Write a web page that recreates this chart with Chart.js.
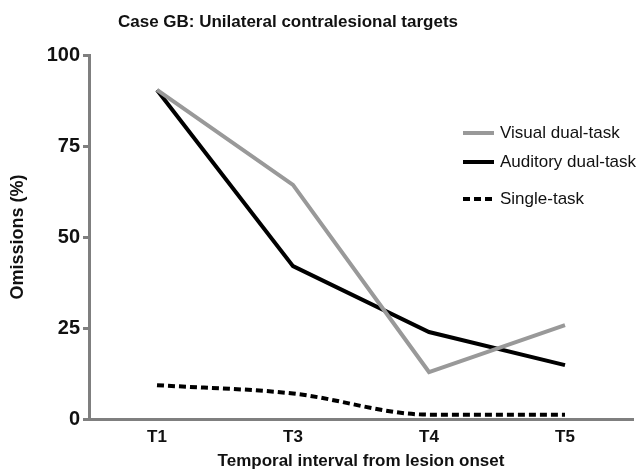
<!DOCTYPE html>
<html>
<head>
<meta charset="utf-8">
<script src="https://cdn.jsdelivr.net/npm/chart.js@4.4.1/dist/chart.umd.min.js"></script>
<style>
  html, body { margin: 0; padding: 0; background: #fff; }
  #wrap { width: 644px; height: 474px; }
</style>
</head>
<body>
<div id="wrap"><canvas id="omissionsChart"></canvas></div>
<script>
// values
const intervals = ['T1', 'T3', 'T4', 'T5'];
const visualDual = [90.4, 64.3, 12.9, 25.8];
const auditoryDual = [90.4, 42, 23.9, 14.8];
const singleTask = [9.3, 7, 1.2, 1.2];
const yTicks = [0, 25, 50, 75, 100];

const chartTitle = 'Case GB: Unilateral contralesional targets';
const axisGrey = '#7f7f7f';
const fontName = "'Liberation Sans', Arial, sans-serif";

// title sits left of centre in the original, so draw it ourselves
const titlePlugin = {
  id: 'titlePlugin',
  afterDraw(chart) {
    const ctx = chart.ctx;
    ctx.save();
    ctx.font = 'bold 17px ' + fontName;
    ctx.fillStyle = '#111';
    ctx.textAlign = 'center';
    ctx.textBaseline = 'middle';
    ctx.fillText(chartTitle, 288, 22);
    ctx.restore();
  }
};

// vertical legend inside the plot, top right
const legendPlugin = {
  id: 'legendPlugin',
  afterDraw(chart) {
    const ctx = chart.ctx;
    const rows = [133, 162, 199];
    ctx.save();
    ctx.font = '17px ' + fontName;
    ctx.textBaseline = 'middle';
    chart.data.datasets.forEach((ds, i) => {
      const y = rows[i];
      ctx.strokeStyle = ds.borderColor;
      ctx.lineWidth = ds.borderWidth;
      ctx.setLineDash(ds.borderDash || []);
      ctx.beginPath();
      ctx.moveTo(463, y);
      ctx.lineTo(494, y);
      ctx.stroke();
      ctx.setLineDash([]);
      ctx.fillStyle = '#111';
      ctx.fillText(ds.label, 500, y);
    });
    ctx.restore();
  }
};

const ctx = document.getElementById('omissionsChart').getContext('2d');
new Chart(ctx, {
  type: 'line',
  data: {
    labels: intervals,
    datasets: [
      {
        label: 'Visual dual-task',
        data: visualDual,
        borderColor: '#999999',
        borderWidth: 4,
        pointRadius: 0,
        tension: 0
      },
      {
        label: 'Auditory dual-task',
        data: auditoryDual,
        borderColor: '#000000',
        borderWidth: 4,
        pointRadius: 0,
        tension: 0
      },
      {
        label: 'Single-task',
        data: singleTask,
        borderColor: '#000000',
        borderWidth: 4,
        borderDash: [7, 4],
        pointRadius: 0,
        cubicInterpolationMode: 'monotone'
      }
    ]
  },
  options: {
    responsive: true,
    maintainAspectRatio: false,
    animation: false,
    layout: { padding: { top: 55, right: 11, left: 0, bottom: 0 } },
    plugins: {
      legend: { display: false },
      title: { display: false },
      tooltip: { enabled: false }
    },
    scales: {
      x: {
        offset: true,
        afterFit: (scale) => { scale.height = 55; },
        border: { color: axisGrey, width: 3 },
        grid: { display: false, drawTicks: false },
        ticks: {
          color: '#111',
          padding: 8,
          font: { family: fontName, size: 17, weight: 'bold' }
        },
        title: {
          display: true,
          text: 'Temporal interval from lesion onset',
          color: '#111',
          padding: { top: 0, bottom: 2 },
          font: { family: fontName, size: 17, weight: 'bold' }
        }
      },
      y: {
        min: 0,
        max: 100,
        afterFit: (scale) => { scale.width = 89; },
        afterBuildTicks: (scale) => { scale.ticks = yTicks.map(v => ({ value: v })); },
        border: { color: axisGrey, width: 3 },
        grid: {
          drawOnChartArea: false,
          drawTicks: true,
          tickLength: 6,
          tickWidth: 3,
          tickColor: axisGrey
        },
        ticks: {
          color: '#111',
          padding: 3,
          font: { family: fontName, size: 20, weight: 'bold' }
        },
        title: {
          display: true,
          text: 'Omissions (%)',
          color: '#111',
          padding: { top: 7, bottom: 0 },
          font: { family: fontName, size: 18, weight: 'bold' }
        }
      }
    }
  },
  plugins: [titlePlugin, legendPlugin]
});
</script>
</body>
</html>
